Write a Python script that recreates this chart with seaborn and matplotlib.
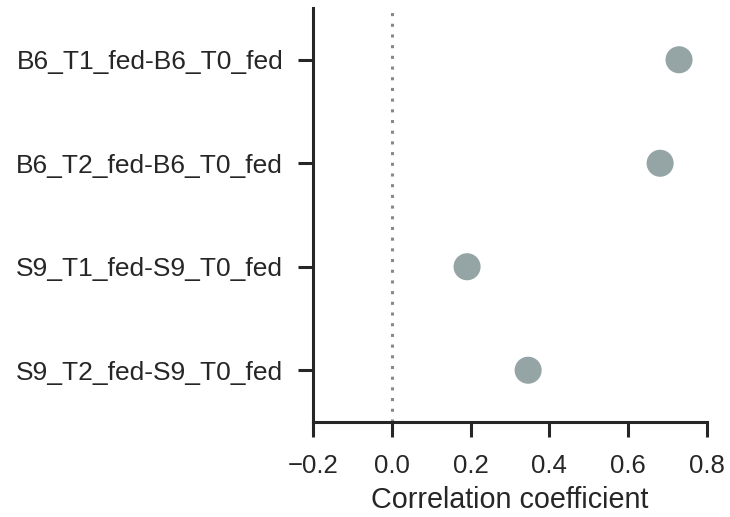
import matplotlib
matplotlib.use("Agg")
import matplotlib.pyplot as plt
import seaborn as sns
import pandas as pd

comparisons = [
    "B6_T1_fed-B6_T0_fed",
    "B6_T2_fed-B6_T0_fed",
    "S9_T1_fed-S9_T0_fed",
    "S9_T2_fed-S9_T0_fed",
]
correlations = [0.729, 0.681, 0.191, 0.346]
x_ticks = [-0.2, 0.0, 0.2, 0.4, 0.6, 0.8]

sns.set_theme(style="ticks")
plt.rcParams["font.family"] = ["Liberation Sans", "DejaVu Sans"]
plt.rcParams["text.color"] = "#262626"
plt.rcParams["axes.labelcolor"] = "#262626"
plt.rcParams["xtick.color"] = "#262626"
plt.rcParams["ytick.color"] = "#262626"

df = pd.DataFrame({"comparison": comparisons, "r": correlations})

fig = plt.figure(figsize=(7.3, 5.17), dpi=100)
ax = fig.add_axes([0.4288, 0.1838, 0.5397, 0.8007])

ax.axvline(0, color="#888888", linewidth=2.2, linestyle=(0, (1, 2.5)), zorder=1)
sns.scatterplot(data=df, x="r", y="comparison", ax=ax, s=380,
                color="#95a5a6", edgecolor="none", zorder=3, legend=False)

ax.set_xlim(-0.2, 0.8)
ax.set_ylim(3.5, -0.5)
ax.set_xticks(x_ticks)
ax.set_xticklabels([f"{t:.1f}".replace("-", "\u2212") for t in x_ticks])
ax.set_xlabel("Correlation coefficient", fontsize=20.7, labelpad=6)
ax.set_ylabel("")
ax.tick_params(axis="both", labelsize=18.5, length=10.5, width=2.2, pad=11,
               color="#262626")
ax.tick_params(axis="y", labelsize=19)
ax.tick_params(axis="x", pad=12.5)
for side in ("left", "bottom"):
    ax.spines[side].set_linewidth(2.2)
    ax.spines[side].set_color("#262626")
sns.despine(ax=ax)

fig.savefig("out.png", dpi=100)
